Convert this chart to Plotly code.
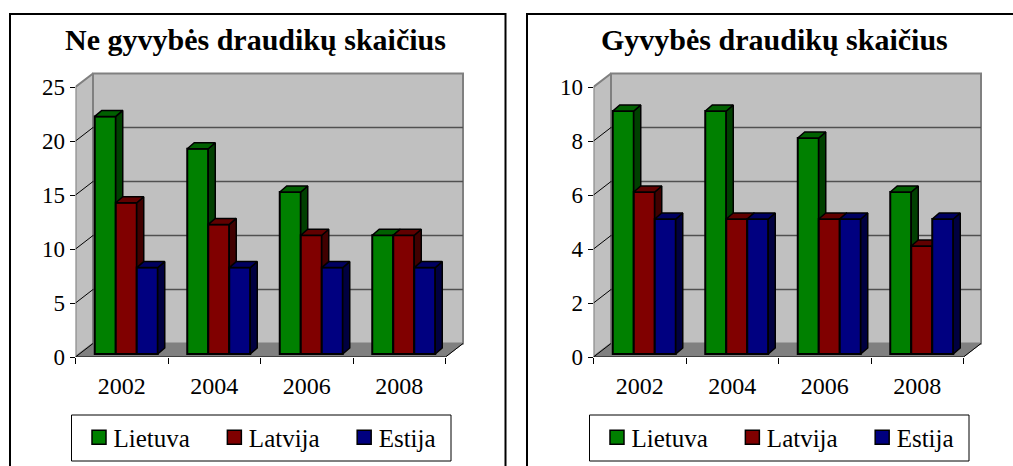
import plotly.graph_objects as go

W, H = 1013, 466
years = ["2002", "2004", "2006", "2008"]
series_names = ["Lietuva", "Latvija", "Estija"]
non_life_lietuva = [22, 19, 15, 11]
non_life_latvija = [14, 12, 11, 11]
non_life_estija = [8, 8, 8, 8]
life_lietuva = [9, 9, 8, 6]
life_latvija = [6, 5, 5, 4]
life_estija = [5, 5, 5, 5]
title_left = "Ne gyvybės draudikų skaičius"
title_right = "Gyvybės draudikų skaičius"
ticks_left = [0, 5, 10, 15, 20, 25]
ticks_right = [0, 2, 4, 6, 8, 10]

front_colors = ["#008000", "#800000", "#000080"]
top_colors = ["#006000", "#600000", "#000060"]
side_colors = ["#004000", "#400000", "#000040"]
FONT = "Liberation Serif"

PW, PH = 370.0, 270.0      # front plot box, px
EXTRA_X, EXTRA_Y = 19.0, 15.0  # room for the back wall, px
UX = PW / len(years)       # px per category


def px(v):
    return v / UX


def add_panel(fig, n, left, title, title_cx, series, ticks, legend_name):
    ymax = ticks[-1]
    UY = PH / ymax
    py = lambda v: v / UY
    top, bottom = 87.0, 357.0
    dom_x = [left / W, (left + PW + EXTRA_X) / W]
    dom_y = [(H - bottom) / H, (H - top + EXTRA_Y) / H]
    rng_x = [0, len(years) + px(EXTRA_X)]
    rng_y = [0, ymax + py(EXTRA_Y)]
    base = 4 * n + 1
    xn = lambda k: "x" if base + k == 1 else f"x{base + k}"
    yn = lambda k: "y" if base + k == 1 else f"y{base + k}"
    xl = lambda k: "xaxis" if base + k == 1 else f"xaxis{base + k}"
    yl = lambda k: "yaxis" if base + k == 1 else f"yaxis{base + k}"

    fig.layout[xl(0)] = dict(
        domain=dom_x, range=rng_x, anchor=yn(0), showgrid=False, zeroline=False, showline=False,
        tickmode="array", tickvals=[i + 0.5 for i in range(len(years))], ticktext=years, ticks="",
        tickfont=dict(family=FONT, size=24, color="#000000"), ticklabelstandoff=12,
        minor=dict(tickmode="array", tickvals=list(range(len(years) + 1)), ticks="outside",
                   ticklen=6, tickcolor="#000000", tickwidth=1, showgrid=False),
    )
    fig.layout[yl(0)] = dict(
        domain=dom_y, range=rng_y, anchor=xn(0), showgrid=False, zeroline=False, showline=False,
        tickmode="array", tickvals=ticks, ticks="outside", ticklen=5, tickcolor="#000000", tickwidth=1,
        tickfont=dict(family=FONT, size=23, color="#000000"), ticklabelstandoff=0,
    )
    for k in (1, 2, 3):
        fig.layout[xl(k)] = dict(domain=dom_x, range=rng_x, overlaying=xn(0), anchor=yn(k), visible=False)
        fig.layout[yl(k)] = dict(domain=dom_y, range=rng_y, overlaying=yn(0), anchor=xn(k), visible=False)

    dx, dy = px(17.5), py(13.5)
    n_c = len(years)
    common = dict(mode="lines", showlegend=False, hoverinfo="skip", cliponaxis=False,
                  xaxis=xn(0), yaxis=yn(0))
    # walls and floor
    fig.add_trace(go.Scatter(x=[dx, n_c + dx, n_c + dx, dx, dx], y=[dy, dy, ymax + dy, ymax + dy, dy],
                             fill="toself", fillcolor="#c0c0c0", line=dict(color="#808080", width=2), **common))
    fig.add_trace(go.Scatter(x=[0, dx, dx, 0, 0], y=[0, dy, ymax + dy, ymax, 0],
                             fill="toself", fillcolor="#c0c0c0", line=dict(color="#808080", width=2), **common))
    fig.add_trace(go.Scatter(x=[0, n_c, n_c + dx, dx, 0], y=[0, 0, dy, dy, 0],
                             fill="toself", fillcolor="#808080", line=dict(color="#808080", width=1), **common))
    # gridlines on the walls
    gx, gy, sx, sy = [], [], [], []
    for t in ticks:
        if 0 < t < ymax:
            gx += [dx, n_c + dx, None]
            gy += [t + dy, t + dy, None]
        if t < ymax:
            sx += [0, dx, None]
            sy += [t, t + dy, None]
    fig.add_trace(go.Scatter(x=gx, y=gy, line=dict(color="#505050", width=1.5), **common))
    fig.add_trace(go.Scatter(x=sx, y=sy, line=dict(color="#000000", width=1), **common))
    fig.add_trace(go.Scatter(x=[0, n_c, n_c + dx], y=[0, 0, dy], line=dict(color="#000000", width=1), **common))

    # bars, one overlay per series so that nearer series paint over farther faces
    bw = px(21.0)
    sh, bh = px(4.5), py(3.0)
    ddx, ddy = px(7.0), py(6.0)
    for s, values in enumerate(series):
        k = s + 1
        lefts = [g + 0.5 + (s - 1.5) * bw + sh for g in range(n_c)]
        fig.add_trace(go.Bar(
            x=[l + bw / 2 for l in lefts], y=values, base=[bh] * n_c, width=bw,
            marker=dict(color=front_colors[s], line=dict(color="#000000", width=2)),
            showlegend=False, hoverinfo="skip", cliponaxis=False, xaxis=xn(k), yaxis=yn(k),
        ))
        ox, oy, tx, ty = [], [], [], []
        for l, v in zip(lefts, values):
            r = l + bw
            ox += [r, r + ddx, r + ddx, r, r, None]
            oy += [bh, bh + ddy, v + bh + ddy, v + bh, bh, None]
            tx += [l, r, r + ddx, l + ddx, l, None]
            ty += [v + bh, v + bh, v + bh + ddy, v + bh + ddy, v + bh, None]
        line = dict(color="#000000", width=1.5)
        c2 = dict(mode="lines", showlegend=False, hoverinfo="skip", cliponaxis=False,
                  xaxis=xn(k), yaxis=yn(k), fill="toself", line=line)
        fig.add_trace(go.Scatter(x=ox, y=oy, fillcolor=side_colors[s], **c2))
        fig.add_trace(go.Scatter(x=tx, y=ty, fillcolor=top_colors[s], **c2))

    # legend entries
    for s, name in enumerate(series_names):
        fig.add_trace(go.Scatter(
            x=[None], y=[None], mode="markers", name=name, xaxis=xn(0), yaxis=yn(0), legend=legend_name,
            marker=dict(symbol="square", size=14, color=front_colors[s], line=dict(color="#000000", width=1.5)),
        ))
    fig.layout[legend_name] = dict(
        orientation="h", x=(left - 16) / W, xanchor="left", y=(H - 437.5) / H, yanchor="middle",
        bgcolor="rgba(0,0,0,0)", borderwidth=0, itemwidth=44,
        font=dict(family=FONT, size=25, color="#000000"),
    )
    fig.add_annotation(xref="paper", yref="paper", x=title_cx / W, y=(H - 40) / H, showarrow=False,
                       text=title, xanchor="center", yanchor="middle",
                       font=dict(family=FONT, size=30, color="#000000", weight="bold"))


fig = go.Figure()
add_panel(fig, 0, 75.5, title_left, 255, [non_life_lietuva, non_life_latvija, non_life_estija], ticks_left, "legend")
add_panel(fig, 1, 593.5, title_right, 774, [life_lietuva, life_latvija, life_estija], ticks_right, "legend2")

shapes = []
for x0, x1 in ((10, 505.5), (527, 1040)):
    shapes.append(dict(type="rect", xref="paper", yref="paper", x0=x0 / W, x1=x1 / W,
                       y0=-0.05, y1=(H - 14) / H, line=dict(color="#000000", width=2), layer="below"))
for x0, x1 in ((71.5, 451), (589.5, 969)):
    shapes.append(dict(type="rect", xref="paper", yref="paper", x0=x0 / W, x1=x1 / W,
                       y0=(H - 461) / H, y1=(H - 415) / H, line=dict(color="#000000", width=1), layer="below"))

fig.update_layout(width=W, height=H, margin=dict(l=0, r=0, t=0, b=0, autoexpand=False), paper_bgcolor="#ffffff",
                  plot_bgcolor="rgba(0,0,0,0)", shapes=shapes, barmode="overlay", hovermode=False)
fig.write_html("out.html", config={"displayModeBar": False},
               post_script="document.body.style.margin='0';document.body.style.overflow='hidden';"
                           "document.querySelectorAll('.legendsymbols').forEach(function(g){g.setAttribute('transform','translate(12.5,0)');});")
